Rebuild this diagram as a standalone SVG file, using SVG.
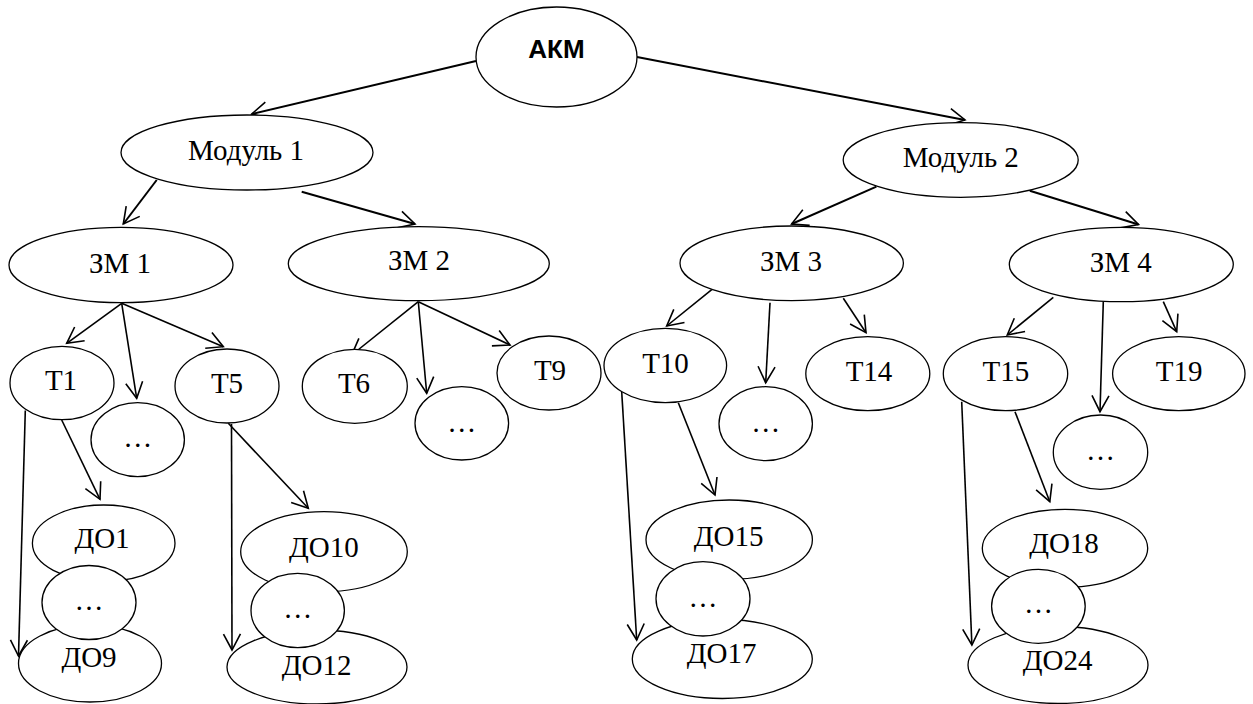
<svg xmlns="http://www.w3.org/2000/svg" width="1253" height="704" viewBox="0 0 1253 704">
<defs>
<marker id="ah" viewBox="-20 -12 24 24" refX="0" refY="0" markerWidth="24" markerHeight="24" markerUnits="userSpaceOnUse" orient="auto" overflow="visible">
<path d="M-16,-8.5 L0,0 L-16,8.5" fill="none" stroke="#000" stroke-width="1.6"/>
</marker>
</defs>
<rect width="1253" height="704" fill="#fff"/>
<g id="edges" stroke="#000" stroke-width="1.6" fill="none" marker-end="url(#ah)">
<line stroke-width="2" x1="476" y1="61" x2="251.7" y2="114" marker-end="url(#ah)"/>
<line stroke-width="2" x1="637" y1="57" x2="965" y2="120" marker-end="url(#ah)"/>
<line stroke-width="2" x1="156.7" y1="180" x2="123.3" y2="224" marker-end="url(#ah)"/>
<line stroke-width="2" x1="301.7" y1="191.7" x2="415" y2="224" marker-end="url(#ah)"/>
<line stroke-width="2" x1="876.4" y1="186.7" x2="791.6" y2="224" marker-end="url(#ah)"/>
<line stroke-width="2" x1="1029.8" y1="190.7" x2="1138.5" y2="224.5" marker-end="url(#ah)"/>
<line x1="121.7" y1="303.3" x2="66.7" y2="343.3" marker-end="url(#ah)"/>
<line x1="121.7" y1="303.3" x2="136.7" y2="398.3" marker-end="url(#ah)"/>
<line x1="121.7" y1="303.3" x2="223.3" y2="346.7" marker-end="url(#ah)"/>
<line x1="418.3" y1="301.7" x2="351.7" y2="355" marker-end="url(#ah)"/>
<line x1="418.3" y1="301.7" x2="426.7" y2="393.3" marker-end="url(#ah)"/>
<line x1="418.3" y1="301.7" x2="510" y2="345" marker-end="url(#ah)"/>
<line x1="713.3" y1="288.3" x2="666.7" y2="326" marker-end="url(#ah)"/>
<line x1="770" y1="302.7" x2="765.7" y2="382.7" marker-end="url(#ah)"/>
<line x1="843.3" y1="298.3" x2="866" y2="332.7" marker-end="url(#ah)"/>
<line x1="1053.3" y1="297.3" x2="1007.3" y2="335" marker-end="url(#ah)"/>
<line x1="1103.3" y1="301.7" x2="1100" y2="411.7" marker-end="url(#ah)"/>
<line x1="1163.3" y1="301.7" x2="1176.7" y2="331.7" marker-end="url(#ah)"/>
<line x1="25.3" y1="410.5" x2="18.5" y2="656" marker-end="url(#ah)"/>
<line x1="61.7" y1="420" x2="100" y2="499.3" marker-end="url(#ah)"/>
<line x1="231.5" y1="424" x2="232" y2="650" marker-end="url(#ah)"/>
<line x1="228.3" y1="423.3" x2="308.3" y2="508.3" marker-end="url(#ah)"/>
<line x1="621.7" y1="391.7" x2="636.7" y2="640" marker-end="url(#ah)"/>
<line x1="678.3" y1="402.7" x2="715" y2="495" marker-end="url(#ah)"/>
<line x1="961.7" y1="401.7" x2="971.9" y2="645" marker-end="url(#ah)"/>
<line x1="1015" y1="411.7" x2="1049.8" y2="501.7" marker-end="url(#ah)"/>
</g>
<g id="akm"><ellipse cx="556.5" cy="57" rx="80.5" ry="50" fill="#fff" stroke="#000" stroke-width="1.3"/><text x="556.5" y="57.7" text-anchor="middle" font-family="Liberation Sans" font-weight="bold" font-size="26">АКМ</text></g>
<g id="mod1"><ellipse cx="247" cy="152.5" rx="126" ry="37.5" fill="#fff" stroke="#000" stroke-width="1.3"/><text x="246" y="160" text-anchor="middle" font-family="Liberation Serif" font-size="29">Модуль 1</text></g>
<g id="mod2"><ellipse cx="960.7" cy="160" rx="117.5" ry="37.3" fill="#fff" stroke="#000" stroke-width="1.3"/><text x="960.8" y="166.7" text-anchor="middle" font-family="Liberation Serif" font-size="29">Модуль 2</text></g>
<g id="zm1"><ellipse cx="121" cy="265" rx="112" ry="37.7" fill="#fff" stroke="#000" stroke-width="1.3"/><text x="120" y="272.7" text-anchor="middle" font-family="Liberation Serif" font-size="29">ЗМ 1</text></g>
<g id="zm2"><ellipse cx="418.8" cy="263.7" rx="130.5" ry="37" fill="#fff" stroke="#000" stroke-width="1.3"/><text x="419" y="270" text-anchor="middle" font-family="Liberation Serif" font-size="29">ЗМ 2</text></g>
<g id="zm3"><ellipse cx="791.7" cy="263.3" rx="111.7" ry="37.3" fill="#fff" stroke="#000" stroke-width="1.3"/><text x="791" y="271" text-anchor="middle" font-family="Liberation Serif" font-size="29">ЗМ 3</text></g>
<g id="zm4"><ellipse cx="1121.3" cy="264.5" rx="112" ry="37.2" fill="#fff" stroke="#000" stroke-width="1.3"/><text x="1120.8" y="271.7" text-anchor="middle" font-family="Liberation Serif" font-size="29">ЗМ 4</text></g>
<g id="t1"><ellipse cx="62" cy="383" rx="52" ry="36.7" fill="#fff" stroke="#000" stroke-width="1.3"/><text x="61" y="390" text-anchor="middle" font-family="Liberation Serif" font-size="29">Т1</text></g>
<g id="dots1"><ellipse cx="137.7" cy="439.7" rx="46.7" ry="37" fill="#fff" stroke="#000" stroke-width="1.3"/><text x="137.7" y="446.7" text-anchor="middle" font-family="Liberation Serif" font-size="29">…</text></g>
<g id="t5"><ellipse cx="227" cy="386" rx="52" ry="37" fill="#fff" stroke="#000" stroke-width="1.3"/><text x="227" y="393.3" text-anchor="middle" font-family="Liberation Serif" font-size="29">Т5</text></g>
<g id="t6"><ellipse cx="354.8" cy="386.3" rx="52.5" ry="37" fill="#fff" stroke="#000" stroke-width="1.3"/><text x="354" y="393.3" text-anchor="middle" font-family="Liberation Serif" font-size="29">Т6</text></g>
<g id="dots2"><ellipse cx="461.8" cy="423.3" rx="46.8" ry="36.7" fill="#fff" stroke="#000" stroke-width="1.3"/><text x="461.8" y="431.7" text-anchor="middle" font-family="Liberation Serif" font-size="29">…</text></g>
<g id="t9"><ellipse cx="549" cy="373" rx="52" ry="37" fill="#fff" stroke="#000" stroke-width="1.3"/><text x="550" y="380" text-anchor="middle" font-family="Liberation Serif" font-size="29">Т9</text></g>
<g id="t10"><ellipse cx="665.3" cy="365.5" rx="61.3" ry="37.2" fill="#fff" stroke="#000" stroke-width="1.3"/><text x="665.5" y="373.3" text-anchor="middle" font-family="Liberation Serif" font-size="29">Т10</text></g>
<g id="dots3"><ellipse cx="765.7" cy="423.7" rx="46.7" ry="37" fill="#fff" stroke="#000" stroke-width="1.3"/><text x="765.7" y="431.7" text-anchor="middle" font-family="Liberation Serif" font-size="29">…</text></g>
<g id="t14"><ellipse cx="867.8" cy="373.7" rx="62" ry="37" fill="#fff" stroke="#000" stroke-width="1.3"/><text x="869" y="380.7" text-anchor="middle" font-family="Liberation Serif" font-size="29">Т14</text></g>
<g id="t15"><ellipse cx="1005.5" cy="373.7" rx="62.2" ry="37" fill="#fff" stroke="#000" stroke-width="1.3"/><text x="1005.8" y="380.7" text-anchor="middle" font-family="Liberation Serif" font-size="29">Т15</text></g>
<g id="dots4"><ellipse cx="1100.5" cy="452.2" rx="47.2" ry="37.2" fill="#fff" stroke="#000" stroke-width="1.3"/><text x="1100.5" y="460" text-anchor="middle" font-family="Liberation Serif" font-size="29">…</text></g>
<g id="t19"><ellipse cx="1178.8" cy="373.7" rx="66.2" ry="37" fill="#fff" stroke="#000" stroke-width="1.3"/><text x="1179.2" y="380.7" text-anchor="middle" font-family="Liberation Serif" font-size="29">Т19</text></g>
<g id="do1"><ellipse cx="103.7" cy="543.3" rx="71.3" ry="38.3" fill="#fff" stroke="#000" stroke-width="1.3"/><text x="102" y="548.3" text-anchor="middle" font-family="Liberation Serif" font-size="29">ДО1</text></g>
<g id="do9"><ellipse cx="90" cy="663.5" rx="71.5" ry="38.5" fill="#fff" stroke="#000" stroke-width="1.3"/><text x="89" y="666.7" text-anchor="middle" font-family="Liberation Serif" font-size="29">ДО9</text></g>
<g id="dots5"><ellipse cx="89" cy="602.5" rx="47" ry="37" fill="#fff" stroke="#000" stroke-width="1.3"/><text x="89" y="610" text-anchor="middle" font-family="Liberation Serif" font-size="29">…</text></g>
<g id="do10"><ellipse cx="324" cy="551.7" rx="83.3" ry="40" fill="#fff" stroke="#000" stroke-width="1.3"/><text x="323.8" y="556.7" text-anchor="middle" font-family="Liberation Serif" font-size="29">ДО10</text></g>
<g id="do12"><ellipse cx="317" cy="667" rx="90" ry="37" fill="#fff" stroke="#000" stroke-width="1.3"/><text x="316.7" y="675" text-anchor="middle" font-family="Liberation Serif" font-size="29">ДО12</text></g>
<g id="dots6"><ellipse cx="297.7" cy="610.5" rx="46.7" ry="37.2" fill="#fff" stroke="#000" stroke-width="1.3"/><text x="297.7" y="618" text-anchor="middle" font-family="Liberation Serif" font-size="29">…</text></g>
<g id="do15"><ellipse cx="729.2" cy="539.7" rx="83.2" ry="39.7" fill="#fff" stroke="#000" stroke-width="1.3"/><text x="728.7" y="546" text-anchor="middle" font-family="Liberation Serif" font-size="29">ДО15</text></g>
<g id="do17"><ellipse cx="722.3" cy="659" rx="90" ry="39.5" fill="#fff" stroke="#000" stroke-width="1.3"/><text x="721.7" y="662.7" text-anchor="middle" font-family="Liberation Serif" font-size="29">ДО17</text></g>
<g id="dots7"><ellipse cx="703" cy="598.8" rx="47" ry="37.2" fill="#fff" stroke="#000" stroke-width="1.3"/><text x="703" y="606.7" text-anchor="middle" font-family="Liberation Serif" font-size="29">…</text></g>
<g id="do18"><ellipse cx="1065" cy="548.3" rx="82.7" ry="39" fill="#fff" stroke="#000" stroke-width="1.3"/><text x="1064" y="553.3" text-anchor="middle" font-family="Liberation Serif" font-size="29">ДО18</text></g>
<g id="do24"><ellipse cx="1058" cy="665" rx="90" ry="38.5" fill="#fff" stroke="#000" stroke-width="1.3"/><text x="1057.7" y="670" text-anchor="middle" font-family="Liberation Serif" font-size="29">ДО24</text></g>
<g id="dots8"><ellipse cx="1038.4" cy="606.3" rx="46.8" ry="37" fill="#fff" stroke="#000" stroke-width="1.3"/><text x="1038.4" y="613.3" text-anchor="middle" font-family="Liberation Serif" font-size="29">…</text></g>
</svg>
